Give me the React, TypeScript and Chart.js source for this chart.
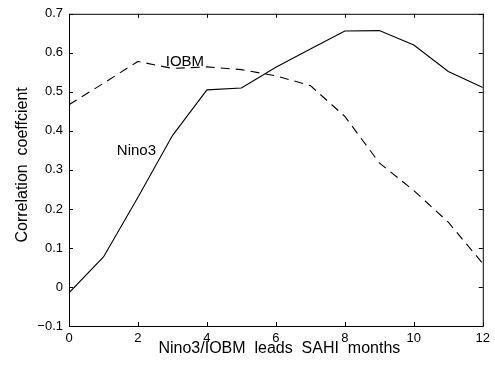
import React, { useEffect, useRef } from "react";
import { Chart, registerables } from "chart.js";

Chart.register(...registerables);

const leadMonths = [0, 1, 2, 3, 4, 5, 6, 7, 8, 9, 10, 11, 12];
const nino3Values = [-0.015, 0.077, 0.23, 0.388, 0.505, 0.51, 0.563, 0.61, 0.656, 0.657, 0.62, 0.552, 0.511];
const iobmValues = [0.467, 0.522, 0.578, 0.56, 0.564, 0.557, 0.541, 0.516, 0.437, 0.318, 0.247, 0.166, 0.06];
const seriesNames = ["Nino3", "IOBM"];
const labelAnchors = [
  { text: "IOBM", x: 2.805, y: 0.567 },
  { text: "Nino3", x: 1.387, y: 0.337 },
];
const xTitle = "Nino3/IOBM  leads  SAHI  months";
const yTitle = "Correlation  coeffcient";
const xTicks = [0, 2, 4, 6, 8, 10, 12];
const yTicks = [-0.1, 0, 0.1, 0.2, 0.3, 0.4, 0.5, 0.6, 0.7];

const FONT = "'Liberation Sans', Arial, Helvetica, sans-serif";

const framePlugin = {
  id: "frame",
  afterDraw(chart: any) {
    const { ctx, chartArea } = chart;
    const xs = chart.scales.x;
    const ys = chart.scales.y;
    const { left, right, top, bottom } = chartArea;
    ctx.save();
    ctx.strokeStyle = "#000";
    ctx.lineWidth = 1;
    ctx.strokeRect(left + 0.5, top + 0.5, right - left, bottom - top);
    const tl = 4;
    ctx.beginPath();
    for (const v of xTicks) {
      const px = Math.round(xs.getPixelForValue(v)) + 0.5;
      ctx.moveTo(px, bottom);
      ctx.lineTo(px, bottom - tl);
      ctx.moveTo(px, top);
      ctx.lineTo(px, top + tl);
    }
    for (const v of yTicks) {
      const py = Math.round(ys.getPixelForValue(v)) + 0.5;
      ctx.moveTo(left, py);
      ctx.lineTo(left + tl, py);
      ctx.moveTo(right, py);
      ctx.lineTo(right - tl, py);
    }
    ctx.stroke();

    ctx.fillStyle = "#000";
    ctx.font = `15px ${FONT}`;
    ctx.textAlign = "left";
    ctx.textBaseline = "alphabetic";
    for (const a of labelAnchors) {
      ctx.fillText(a.text, xs.getPixelForValue(a.x), ys.getPixelForValue(a.y));
    }

    ctx.font = `16px ${FONT}`;
    ctx.textAlign = "center";
    ctx.fillText(xTitle, (left + right) / 2 + 3.5, 353);
    ctx.save();
    ctx.translate(27, (top + bottom) / 2 - 5);
    ctx.rotate(-Math.PI / 2);
    ctx.fillText(yTitle, 0, 0);
    ctx.restore();
    ctx.restore();
  },
};

function fmt(v: number) {
  const r = Number(v.toFixed(1));
  if (r === 0) return "0";
  if (r < 0) return "\u2212" + String(Math.abs(r));
  return String(r);
}

export default function App() {
  const ref = useRef<HTMLCanvasElement | null>(null);
  useEffect(() => {
    document.body.style.margin = "0";
    const canvas = ref.current!;
    const chart = new Chart(canvas, {
      type: "line",
      data: {
        labels: leadMonths,
        datasets: [
          {
            label: seriesNames[0],
            data: leadMonths.map((m, i) => ({ x: m, y: nino3Values[i] })),
            borderColor: "#000",
            borderWidth: 1.1,
            pointRadius: 0,
            tension: 0,
            fill: false,
          },
          {
            label: seriesNames[1],
            data: leadMonths.map((m, i) => ({ x: m, y: iobmValues[i] })),
            borderColor: "#000",
            borderWidth: 1.1,
            borderDash: [9, 6],
            pointRadius: 0,
            tension: 0,
            fill: false,
          },
        ],
      },
      options: {
        animation: false,
        responsive: false,
        devicePixelRatio: 1,
        layout: { padding: { top: 13, right: 8, left: 0, bottom: 0 } },
        plugins: { legend: { display: false }, tooltip: { enabled: false } },
        scales: {
          x: {
            type: "linear",
            min: 0,
            max: 12,
            grid: { display: false, drawTicks: false },
            border: { display: false },
            ticks: {
              stepSize: 2,
              padding: 5,
              color: "#000",
              font: { family: FONT, size: 13 },
              maxRotation: 0,
              callback: (v: any) => String(v),
            },
            afterFit: (s: any) => {
              s.height = 43;
            },
          },
          y: {
            type: "linear",
            min: -0.1,
            max: 0.7,
            grid: { display: false, drawTicks: false },
            border: { display: false },
            ticks: {
              stepSize: 0.1,
              padding: 6,
              color: "#000",
              font: { family: FONT, size: 13 },
              callback: (v: any) => fmt(Number(v)),
            },
            afterFit: (s: any) => {
              s.width = 69;
            },
          },
        },
      },
      plugins: [framePlugin],
    } as any);
    return () => chart.destroy();
  }, []);
  return (
    <div style={{ position: "absolute", left: 0, top: 0, width: 495, height: 369, background: "#fff" }}>
      <canvas ref={ref} width={495} height={369} style={{ display: "block", width: 495, height: 369 }} />
    </div>
  );
}
